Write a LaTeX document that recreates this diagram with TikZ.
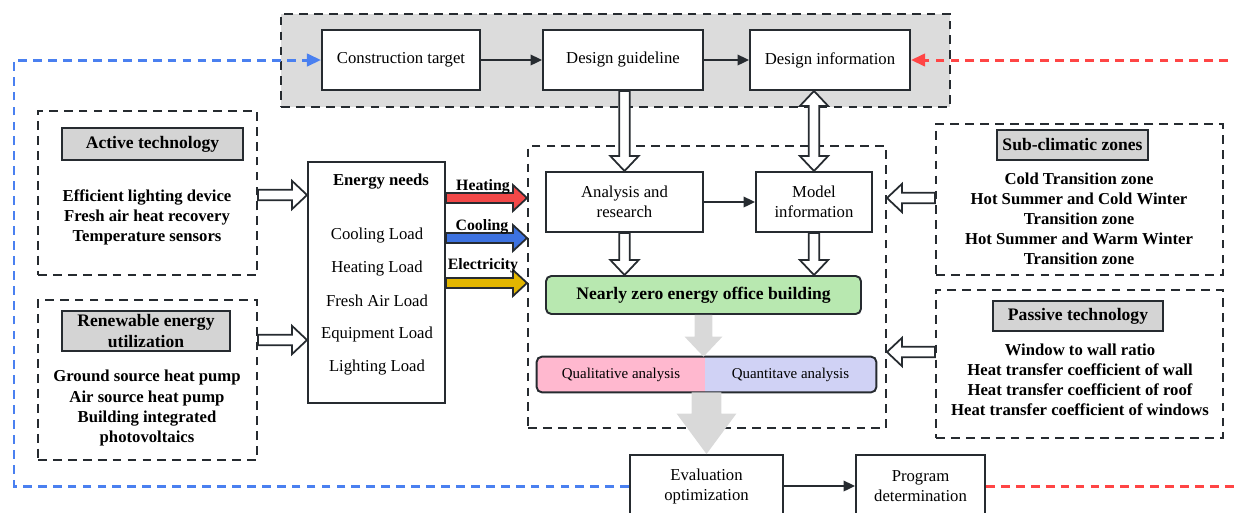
\documentclass[tikz,border=0pt]{standalone}
\usepackage{fontspec}
\setmainfont{Liberation Serif}
\usetikzlibrary{arrows.meta,calc}

\newdimen\pxu \pxu=0.02cm
\definecolor{linec}{HTML}{262B30}
\definecolor{grpgray}{HTML}{DCDCDC}
\definecolor{headgray}{HTML}{D4D4D4}
\definecolor{nzgreen}{HTML}{B8E8B0}
\definecolor{qualpink}{HTML}{FFB8CF}
\definecolor{quantblue}{HTML}{D0D2F5}
\definecolor{flowgray}{HTML}{D9D9D9}
\definecolor{loopblue}{HTML}{4A80F0}
\definecolor{loopred}{HTML}{FF4545}
\definecolor{heatred}{HTML}{F24848}
\definecolor{coolblue}{HTML}{3D72E0}
\definecolor{elecgold}{HTML}{E2B600}

% block arrow: style, from, to, shaft half width, head half width, head length
\newcommand\blockarr[6]{%
  \path[#1] let \p1=(#2), \p2=(#3), \n1={veclen(\x2-\x1,\y2-\y1)},
      \n2={(\x2-\x1)/\n1}, \n3={(\y2-\y1)/\n1} in
    ({\x1-(\n3)*#4},{\y1+(\n2)*#4})
    -- ({\x2-(\n2)*#6-(\n3)*#4},{\y2-(\n3)*#6+(\n2)*#4})
    -- ({\x2-(\n2)*#6-(\n3)*#5},{\y2-(\n3)*#6+(\n2)*#5})
    -- (\x2,\y2)
    -- ({\x2-(\n2)*#6+(\n3)*#5},{\y2-(\n3)*#6-(\n2)*#5})
    -- ({\x2-(\n2)*#6+(\n3)*#4},{\y2-(\n3)*#6-(\n2)*#4})
    -- ({\x1+(\n3)*#4},{\y1-(\n2)*#4}) -- cycle;}
% same, with a head at both ends
\newcommand\blockarrboth[6]{%
  \path[#1] let \p1=(#2), \p2=(#3), \n1={veclen(\x2-\x1,\y2-\y1)},
      \n2={(\x2-\x1)/\n1}, \n3={(\y2-\y1)/\n1} in
    (\x1,\y1)
    -- ({\x1+(\n2)*#6-(\n3)*#5},{\y1+(\n3)*#6+(\n2)*#5})
    -- ({\x1+(\n2)*#6-(\n3)*#4},{\y1+(\n3)*#6+(\n2)*#4})
    -- ({\x2-(\n2)*#6-(\n3)*#4},{\y2-(\n3)*#6+(\n2)*#4})
    -- ({\x2-(\n2)*#6-(\n3)*#5},{\y2-(\n3)*#6+(\n2)*#5})
    -- (\x2,\y2)
    -- ({\x2-(\n2)*#6+(\n3)*#5},{\y2-(\n3)*#6-(\n2)*#5})
    -- ({\x2-(\n2)*#6+(\n3)*#4},{\y2-(\n3)*#6-(\n2)*#4})
    -- ({\x1+(\n2)*#6+(\n3)*#4},{\y1+(\n3)*#6-(\n2)*#4})
    -- ({\x1+(\n2)*#6+(\n3)*#5},{\y1+(\n3)*#6-(\n2)*#5}) -- cycle;}

\begin{document}
\begin{tikzpicture}[x=0.02cm,y=-0.02cm,>=Stealth,
  txt/.style={font=\fontsize{9.5}{11.4}\selectfont,align=center,inner sep=0pt},
  boldtxt/.style={txt,font=\bfseries\fontsize{9.5}{11.4}\selectfont},
  box/.style={txt,draw=linec,line width=1.1pt,fill=white},
  head/.style={box,fill=headgray,font=\bfseries\fontsize{10}{11.4}\selectfont},
  grp/.style={draw=linec,line width=1.1pt,dash pattern=on 5pt off 3.5pt},
  flow/.style={draw=linec,line width=1pt,-{Triangle[length=6.5pt,width=6pt]}},
  loop/.style={line width=1.7pt,dash pattern=on 5pt off 3.5pt},
  openarr/.style={draw=linec,line width=1pt,fill=white},
  energyarr/.style={draw=linec,line width=1pt,fill=#1},
  grayarr/.style={fill=flowgray}]
  \useasboundingbox (0,0) rectangle (1234,512);

  % design stage
  \node[grp,fill=grpgray,minimum width=669\pxu,minimum height=93\pxu] (topgrp) at (615.5,60.5) {};
  \node[box,minimum width=158\pxu,minimum height=60\pxu] (cons) at (401,60) {Construction target};
  \node[box,minimum width=160\pxu,minimum height=60\pxu] (guide) at (623,60) {Design guideline};
  \node[box,minimum width=160\pxu,minimum height=60\pxu] (info) at (830,60) {Design information};
  \draw[flow] (cons) -- (guide);
  \draw[flow] (guide) -- (info);

  % technologies on the left
  \node[grp,minimum width=219\pxu,minimum height=164\pxu] (actbox) at (147.5,193) {};
  \node[head,minimum width=181\pxu,minimum height=32\pxu] (acthead) at (152.5,144) {Active technology};
  \node[boldtxt] (actlist) at (147,217) {Efficient lighting device\\Fresh air heat recovery\\Temperature sensors};
  \node[grp,minimum width=219\pxu,minimum height=160\pxu] (renbox) at (147.5,380) {};
  \node[head,minimum width=168\pxu,minimum height=40\pxu] (renhead) at (146,331) {Renewable energy\\utilization};
  \node[boldtxt] (renlist) at (147,408) {Ground source heat pump\\Air source heat pump\\Building integrated\\photovoltaics};

  % energy needs
  \node[box,minimum width=137\pxu,minimum height=241\pxu] (energy) at (376.5,282.5) {};
  \node[boldtxt] (entitle) at (381,182) {Energy needs};
  \foreach \t [count=\i] in {Cooling Load,Heating Load,Fresh Air Load,Equipment Load,Lighting Load}
    \node[txt] (load\i) at (377,{202+33*\i}) {\t};

  % analysis
  \node[grp,minimum width=358\pxu,minimum height=282\pxu] (central) at (707,287) {};
  \node[box,minimum width=157\pxu,minimum height=60\pxu] (anal) at (624.5,202) {Analysis and\\research};
  \node[box,minimum width=116\pxu,minimum height=60\pxu] (model) at (814,202) {Model\\information};
  \draw[flow] (anal) -- (model);
  \node[box,fill=nzgreen,rounded corners=3pt,minimum width=315\pxu,minimum height=38\pxu,
    font=\bfseries\fontsize{10}{12}\selectfont] (nzeb) at (703.5,295) {Nearly zero energy office building};
  \begin{scope}
    \clip[rounded corners=3pt] (537,357) rectangle (876,392);
    \node[txt,fill=qualpink,minimum width=168\pxu,minimum height=35\pxu,
      font=\fontsize{8.5}{10}\selectfont] (qual) at (621,374.5) {Qualitative analysis};
    \node[txt,fill=quantblue,minimum width=171\pxu,minimum height=35\pxu,
      font=\fontsize{8.5}{10}\selectfont] (quant) at (790.5,374.5) {Quantitave analysis};
  \end{scope}
  \draw[draw=linec,line width=1.1pt,rounded corners=3pt] (qual.north west) rectangle (quant.south east);

  % climate zones and passive technology
  \node[grp,minimum width=287\pxu,minimum height=151\pxu] (subbox) at (1079.5,199.5) {};
  \node[head,minimum width=151\pxu,minimum height=30\pxu] (subhead) at (1072.5,145) {Sub-climatic zones};
  \node[boldtxt] (sublist) at (1079,219) {Cold Transition zone\\Hot Summer and Cold Winter\\Transition zone\\Hot Summer and Warm Winter\\Transition zone};
  \node[grp,minimum width=287\pxu,minimum height=148\pxu] (pasbox) at (1079.5,364) {};
  \node[head,minimum width=170\pxu,minimum height=30\pxu] (pashead) at (1078,316) {Passive technology};
  \node[boldtxt] (paslist) at (1080,379.5) {Window to wall ratio\\Heat transfer coefficient of wall\\Heat transfer coefficient of roof\\Heat transfer coefficient of windows};

  % evaluation
  \node[box,minimum width=153\pxu,minimum height=62\pxu] (eval) at (706.5,486) {Evaluation\\optimization};
  \node[box,minimum width=129\pxu,minimum height=62\pxu] (prog) at (920.5,486) {Program\\determination};
  \draw[flow] (eval) -- (prog);

  % block arrows
  \blockarr{openarr}{actbox.east |- 0,195}{energy.west |- 0,195}{3pt}{8pt}{8.5pt}
  \blockarr{openarr}{renbox.east |- 0,340}{energy.west |- 0,340}{3pt}{8pt}{8.5pt}
  \blockarr{energyarr=heatred}{energy.east |- 0,198}{central.west |- 0,198}{2.8pt}{7.4pt}{8pt}
  \blockarr{energyarr=coolblue}{energy.east |- 0,238}{central.west |- 0,238}{2.8pt}{7.4pt}{8pt}
  \blockarr{energyarr=elecgold}{energy.east |- 0,283}{central.west |- 0,283}{2.8pt}{7.4pt}{8pt}
  \node[boldtxt,font=\bfseries\fontsize{9}{10}\selectfont] (lblheat) at (483,187) {Heating};
  \node[boldtxt,font=\bfseries\fontsize{9}{10}\selectfont] (lblcool) at (482,227) {Cooling};
  \node[boldtxt,font=\bfseries\fontsize{9}{10}\selectfont] (lblelec) at (483,266) {Electricity};
  \blockarr{openarr}{guide.south -| anal.north}{anal.north}{3pt}{8pt}{8.5pt}
  \blockarrboth{openarr}{model.north |- info.south}{model.north}{3pt}{8pt}{8.5pt}
  \blockarr{openarr}{anal.south}{anal.south |- nzeb.north}{3pt}{8pt}{8.5pt}
  \blockarr{openarr}{model.south}{model.south |- nzeb.north}{3pt}{8pt}{8.5pt}
  \blockarr{openarr}{subbox.west |- 0,198}{central.east |- 0,198}{3pt}{8pt}{8.5pt}
  \blockarr{openarr}{pasbox.west |- 0,352}{central.east |- 0,352}{3pt}{8pt}{8.5pt}
  \blockarr{grayarr}{nzeb.south}{nzeb.south |- quant.north}{5pt}{10.8pt}{11.4pt}
  \blockarr{grayarr}{eval.north |- quant.south}{eval.north}{8.5pt}{17pt}{23pt}

  % feedback loops
  \coordinate (bl) at (14,486);
  \coordinate (rb) at (1245,486);
  \draw[loop,loopblue,-{Triangle[length=8pt,width=7pt]}] (eval.west) -- (bl) |- (cons.west);
  \draw[loop,loopred,-{Triangle[length=8pt,width=7pt]}] (prog.east) -- (rb) |- (info.east);
\end{tikzpicture}
\end{document}
